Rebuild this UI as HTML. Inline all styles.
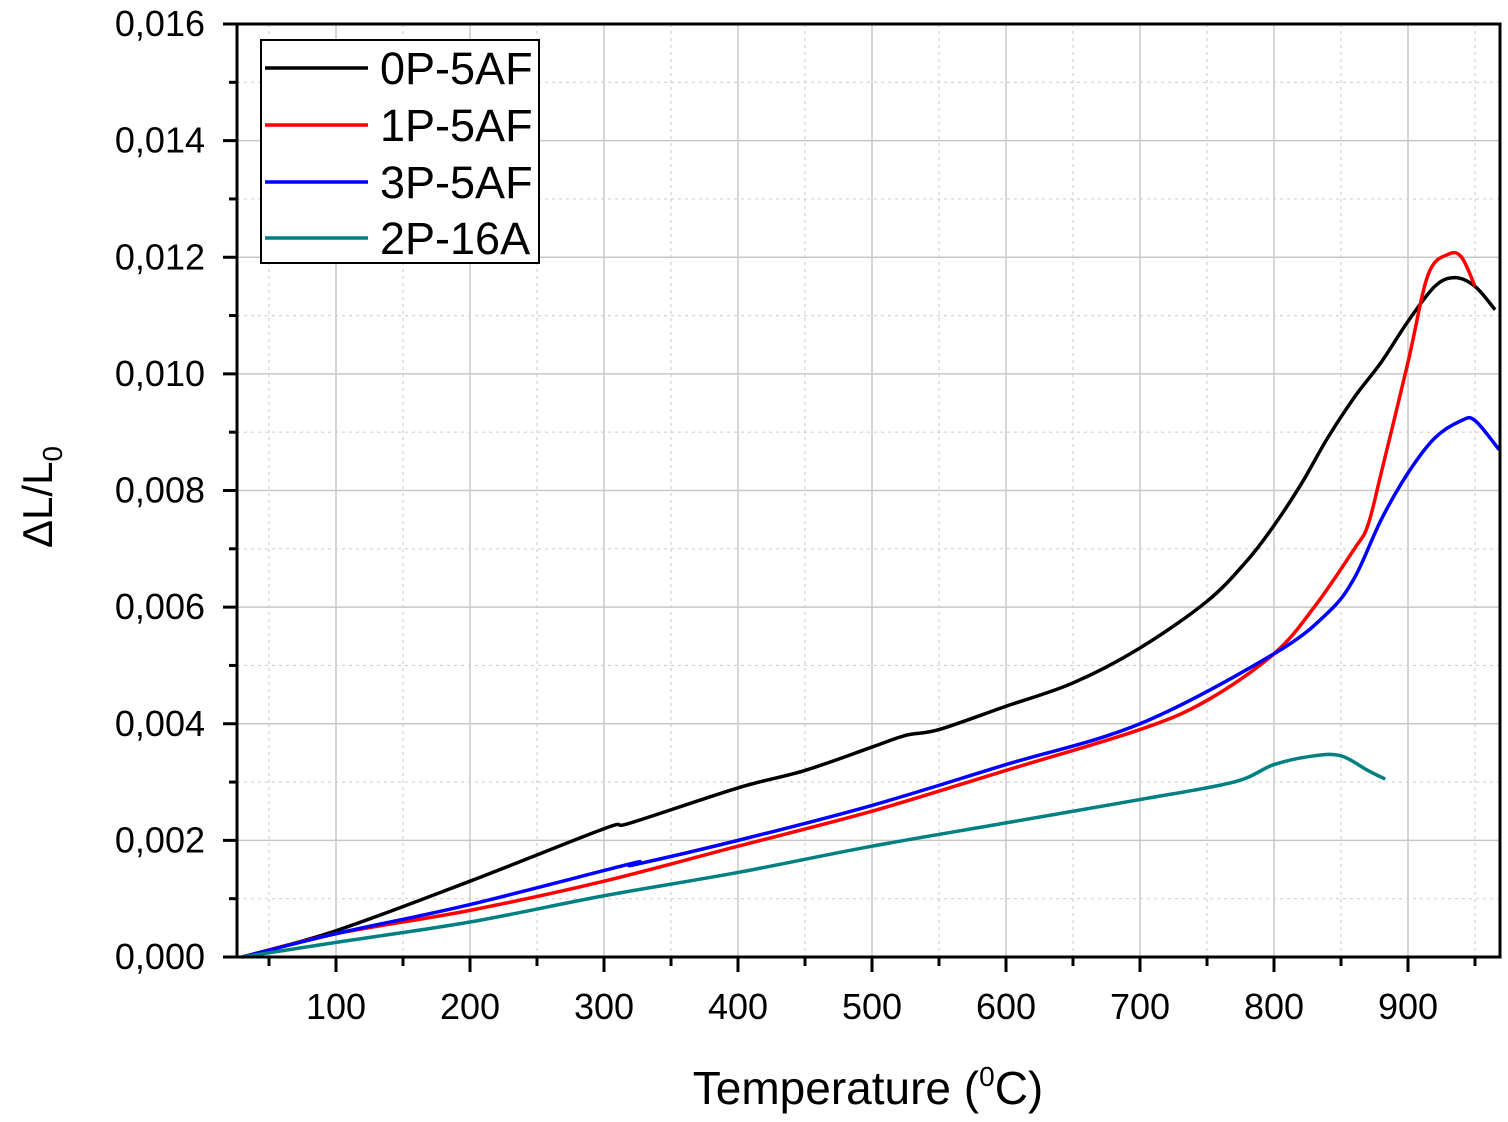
<!DOCTYPE html>
<html><head><meta charset="utf-8"><style>
body{margin:0;background:#fff;position:relative}
svg{display:block;font-family:"Liberation Sans",Arial,sans-serif}
</style></head><body>
<svg id="chart" width="1508" height="1122"></svg>
<script>
const xTicks=[100,200,300,400,500,600,700,800,900];
const yTicks=[0,0.002,0.004,0.006,0.008,0.010,0.012,0.014,0.016];
const yTickLabels=["0,000","0,002","0,004","0,006","0,008","0,010","0,012","0,014","0,016"];
const seriesNames=["0P-5AF","1P-5AF","3P-5AF","2P-16A"];
const seriesColors=["#000000","#ff0000","#0000ff","#008080"];
const s0T=[30,100,200,300,320,400,450,500,525,550,600,650,700,750,780,800,820,840,860,880,900,920,935,950,965];
const s0V=[0,0.00045,0.0013,0.0022,0.0023,0.0029,0.0032,0.0036,0.0038,0.0039,0.0043,0.0047,0.0053,0.0061,0.0068,0.0074,0.0081,0.0089,0.0096,0.0102,0.0109,0.0115,0.01165,0.0115,0.0111];
const s1T=[30,100,200,300,400,500,600,700,750,800,830,860,870,880,900,915,930,940,950];
const s1V=[0,0.0004,0.0008,0.0013,0.0019,0.0025,0.0032,0.0039,0.0044,0.0052,0.0060,0.0070,0.0074,0.0083,0.0102,0.0117,0.01205,0.0120,0.0115];
const s2T=[30,100,200,320,322,400,500,600,700,800,840,860,880,900,920,940,950,968];
const s2V=[0,0.0004,0.0009,0.0016,0.00158,0.0020,0.0026,0.0033,0.0040,0.0052,0.0059,0.0065,0.0075,0.0083,0.0089,0.0092,0.0092,0.0087];
const s3T=[30,100,200,300,400,500,600,700,770,800,830,850,870,883];
const s3V=[0,0.00025,0.0006,0.00105,0.00145,0.0019,0.0023,0.0027,0.0030,0.0033,0.00345,0.00345,0.0032,0.00305];
const L=237,R=1500,T=24,B=957;
const X=t=>202+t*1.34;
const Y=v=>B-v/0.016*(B-T);
const NS="http://www.w3.org/2000/svg";
const svg=document.getElementById('chart');
function mk(tag,attrs,parent){const e=document.createElementNS(NS,tag);for(const k in attrs)e.setAttribute(k,attrs[k]);(parent||svg).appendChild(e);return e;}
function smooth(pts){
 let d='M'+pts[0][0]+','+pts[0][1];
 for(let i=0;i<pts.length-1;i++){
  const p0=pts[i-1]||pts[i],p1=pts[i],p2=pts[i+1],p3=pts[i+2]||p2;
  const c1=[p1[0]+(p2[0]-p0[0])/6,p1[1]+(p2[1]-p0[1])/6];
  const c2=[p2[0]-(p3[0]-p1[0])/6,p2[1]-(p3[1]-p1[1])/6];
  d+=' C'+c1[0]+','+c1[1]+' '+c2[0]+','+c2[1]+' '+p2[0]+','+p2[1];
 }
 return d;
}
const grid=mk('g',{});


for(const t of xTicks){
 mk('line',{x1:X(t),x2:X(t),y1:T,y2:B,stroke:'#c8c8c8','stroke-width':1.5},grid);
 mk('line',{x1:X(t-50),x2:X(t-50),y1:T,y2:B,stroke:'#d0d0d0','stroke-width':1.2,'stroke-dasharray':'3 4'},grid);
}
mk('line',{x1:X(950),x2:X(950),y1:T,y2:B,stroke:'#d0d0d0','stroke-width':1.2,'stroke-dasharray':'3 4'},grid);
yTicks.forEach((v,i)=>{
 mk('line',{x1:L,x2:R,y1:Y(v),y2:Y(v),stroke:'#c8c8c8','stroke-width':1.5},grid);
 if(i<yTicks.length-1) mk('line',{x1:L,x2:R,y1:Y(v+0.001),y2:Y(v+0.001),stroke:'#d0d0d0','stroke-width':1.2,'stroke-dasharray':'3 4'},grid);
});
const all=[[s0T,s0V],[s1T,s1V],[s2T,s2V],[s3T,s3V]];
all.forEach((s,i)=>{
 const p=mk('path',{d:smooth(s[0].map((t,j)=>[X(t),Y(s[1][j])])),fill:'none',stroke:seriesColors[i],'stroke-width':3.5,'stroke-linejoin':'round'});
 
 
});
const fr=mk('rect',{x:L,y:T,width:R-L,height:B-T,fill:'none',stroke:'#000','stroke-width':3});


for(const t of xTicks){
 mk('line',{x1:X(t),x2:X(t),y1:B,y2:B+15,stroke:'#000','stroke-width':3});
 mk('line',{x1:X(t-50),x2:X(t-50),y1:B,y2:B+9,stroke:'#000','stroke-width':3});
 const tx=mk('text',{x:X(t),y:1019,'font-size':36,'text-anchor':'middle'});
 tx.textContent=t;
 
 
}
mk('line',{x1:X(950),x2:X(950),y1:B,y2:B+9,stroke:'#000','stroke-width':3});
yTicks.forEach((v,i)=>{
 mk('line',{x1:L-14,x2:L,y1:Y(v),y2:Y(v),stroke:'#000','stroke-width':3});
 if(i<yTicks.length-1) mk('line',{x1:L-8,x2:L,y1:Y(v+0.001),y2:Y(v+0.001),stroke:'#000','stroke-width':3});
 const tx=mk('text',{x:205,y:Y(v)+12,'font-size':36,'text-anchor':'end'});
 tx.textContent=yTickLabels[i];
 
 
});
</script>
<svg width="1508" height="1122" style="position:absolute;left:0;top:0">
 <g>
  <rect x="261" y="40" width="278" height="223" fill="#fff" stroke="#000" stroke-width="2"/>
  <line x1="265" x2="368" y1="68" y2="68" stroke="#000" stroke-width="3.5"/>
  <text x="380" y="84" font-size="45">0P-5AF</text>
  <line x1="265" x2="368" y1="125" y2="125" stroke="#f00" stroke-width="3.5"/>
  <text x="380" y="141" font-size="45">1P-5AF</text>
  <line x1="265" x2="368" y1="182" y2="182" stroke="#00f" stroke-width="3.5"/>
  <text x="380" y="198" font-size="45">3P-5AF</text>
  <line x1="265" x2="368" y1="238" y2="238" stroke="#008080" stroke-width="3.5"/>
  <text x="380" y="254" font-size="45">2P-16A</text>
 </g>
 <text x="868" y="1104" font-size="46" text-anchor="middle">Temperature (<tspan font-size="28" dy="-18">0</tspan><tspan dy="18">C)</tspan></text>
 <text transform="translate(52,497) rotate(-90)" font-size="42" text-anchor="middle">ΔL/L<tspan font-size="28" dy="10">0</tspan></text>
</svg>
</body></html>
